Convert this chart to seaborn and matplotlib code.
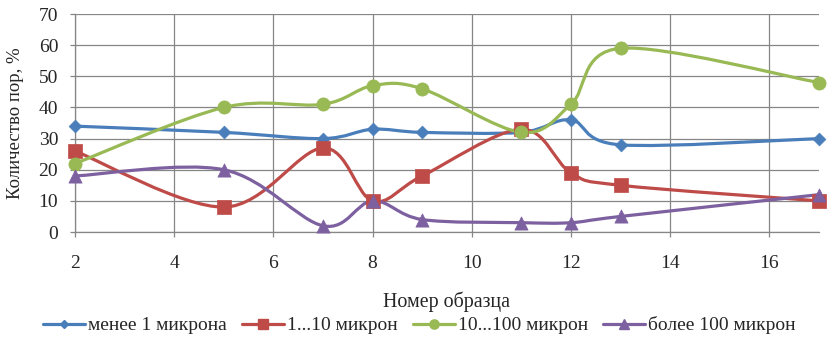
import numpy as np
import pandas as pd
import seaborn as sns
import matplotlib
matplotlib.use("Agg")
import matplotlib.pyplot as plt
from matplotlib.path import Path
from matplotlib.patches import PathPatch
from matplotlib.lines import Line2D

samples = [2, 5, 7, 8, 9, 11, 12, 13, 17]
less_1 = [34, 32, 30, 33, 32, 32, 36, 28, 30]
from_1_10 = [26, 8, 27, 10, 18, 33, 19, 15, 10]
from_10_100 = [22, 40, 41, 47, 46, 32, 41, 59, 48]
over_100 = [18, 20, 2, 10, 4, 3, 3, 5, 12]

series_names = ["менее 1 микрона", "1...10 микрон", "10...100 микрон", "более 100 микрон"]
series_vals = [less_1, from_1_10, from_10_100, over_100]
colors = ["#4A7EBB", "#BE4B48", "#98B954", "#7D60A0"]
markers = ["D", "s", "o", "^"]
msizes = [6.5, 10, 9.5, 9.5]

sns.set_theme(style="white")
plt.rcParams["font.family"] = ["Liberation Serif", "DejaVu Serif"]

fig = plt.figure(figsize=(8.35, 3.39), dpi=100)
ax = fig.add_axes([0.0898, 0.3156, 0.891, 0.643])


def smooth_path(xs, ys, t=1/6):
    pts = np.column_stack([xs, ys]).astype(float)
    n = len(pts)
    verts = [pts[0]]
    codes = [Path.MOVETO]
    for i in range(n - 1):
        p0 = pts[i - 1] if i > 0 else pts[i]
        p1 = pts[i]
        p2 = pts[i + 1]
        p3 = pts[i + 2] if i + 2 < n else pts[i + 1]
        c1 = p1 + (p2 - p0) * t
        c2 = p2 - (p3 - p1) * t
        verts += [c1, c2, p2]
        codes += [Path.CURVE4] * 3
    return Path(verts, codes)


rows = []
for name, vals in zip(series_names, series_vals):
    for s, v in zip(samples, vals):
        rows.append({"sample": s, "value": v, "series": name})
df = pd.DataFrame(rows)

for name, vals, c in zip(series_names, series_vals, colors):
    patch = PathPatch(smooth_path(samples, vals), facecolor="none", edgecolor=c,
                      lw=2.3, zorder=3, clip_on=False, capstyle="round")
    ax.add_patch(patch)

for name, c, m, ms in zip(series_names, colors, markers, msizes):
    sub = df[df["series"] == name]
    sns.scatterplot(data=sub, x="sample", y="value", color=c, marker=m,
                    s=ms ** 2, edgecolor=c, linewidth=0.5, ax=ax, zorder=4,
                    clip_on=False, legend=False)

ax.set_xlim(2, 17)
ax.set_ylim(0, 70)
ax.set_xticks(range(2, 17, 2))
ax.set_yticks(range(0, 71, 10))
ax.grid(True, color="#868686", lw=0.9)
ax.set_axisbelow(True)
for sp in ["top", "right"]:
    ax.spines[sp].set_visible(False)
for sp in ["left", "bottom"]:
    ax.spines[sp].set_color("#868686")
    ax.spines[sp].set_linewidth(0.9)
ax.tick_params(axis="both", which="both", length=3.6, color="#868686", width=0.9,
               labelsize=14, direction="out", left=True, bottom=True)
ax.tick_params(axis="x", pad=13)
ax.tick_params(axis="y", pad=8.5)
ax.set_xlabel("Номер образца", fontsize=14.4)
ax.set_ylabel("Количество пор, %", fontsize=13.5)
ax.xaxis.set_label_coords(0.5, -0.275)
ax.yaxis.set_label_coords(-0.068, 0.5)

handles = [Line2D([0], [0], color=c, lw=2.3, marker=m, markersize=ms * 0.7,
                  markeredgecolor=c)
           for c, m, ms in zip(colors, markers, msizes)]
fig.legend(handles, series_names, loc="center", bbox_to_anchor=(0.502, 0.04),
           ncol=4, frameon=False, fontsize=14, handlelength=2.15,
           handletextpad=0.15, columnspacing=0.8, borderpad=0.0)

fig.savefig("out.png", dpi=100)
